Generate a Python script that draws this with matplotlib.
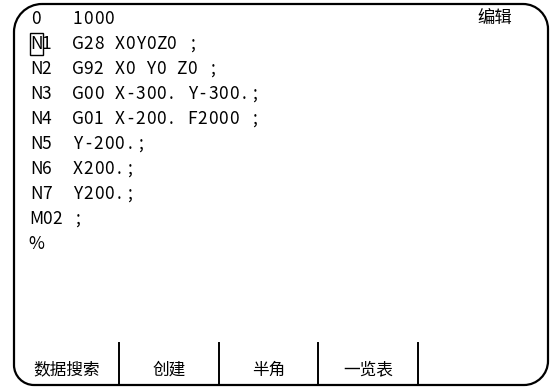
import matplotlib
matplotlib.use('Agg')
import matplotlib.pyplot as plt
from matplotlib.path import Path
from matplotlib.patches import PathPatch, Rectangle

# program listing shown on the CNC screen (half-width character grid)
LINES = [
    '0   1000',
    'N1  G28 X0Y0Z0 ;',
    'N2  G92 X0 Y0 Z0 ;',
    'N3  G00 X-300. Y-300.;',
    'N4  G01 X-200. F2000 ;',
    'N5  Y-200.;',
    'N6  X200.;',
    'N7  Y200.;',
    'M02 ;',
    '%',
]
MODE_LABEL = '编辑'
SOFTKEYS   = ['数据搜索', '创建', '半角', '一览表', '']

W, H = 551, 388
CJK = ['Noto Sans CJK SC', 'DejaVu Sans']
CELL = 10.4          # width of one half-width character cell (px)
X0 = 31              # left edge of the first cell
Y0 = 19              # centre of the first text row
ROW = 25             # row pitch


def frame_path(l, t, r, b, r_tl, r_tr, r_br, r_bl):
    """Rounded rectangle with a different radius on each corner (y down)."""
    k = 0.5523
    v = [(l + r_tl, t), (r - r_tr, t),
         (r - r_tr + k * r_tr, t), (r, t + r_tr - k * r_tr), (r, t + r_tr),
         (r, b - r_br),
         (r, b - r_br + k * r_br), (r - r_br + k * r_br, b), (r - r_br, b),
         (l + r_bl, b),
         (l + r_bl - k * r_bl, b), (l, b - r_bl + k * r_bl), (l, b - r_bl),
         (l, t + r_tl),
         (l, t + r_tl - k * r_tl), (l + r_tl - k * r_tl, t), (l + r_tl, t)]
    c = [Path.MOVETO, Path.LINETO,
         Path.CURVE4, Path.CURVE4, Path.CURVE4,
         Path.LINETO,
         Path.CURVE4, Path.CURVE4, Path.CURVE4,
         Path.LINETO,
         Path.CURVE4, Path.CURVE4, Path.CURVE4,
         Path.LINETO,
         Path.CURVE4, Path.CURVE4, Path.CURVE4]
    return Path(v, c)


fig = plt.figure(figsize=(W / 100, H / 100), dpi=100)
ax = fig.add_axes([0, 0, 1, 1])
ax.set_xlim(0, W)
ax.set_ylim(H, 0)
ax.axis('off')

ax.add_patch(PathPatch(frame_path(14, 4, 548, 385, 28, 25, 24, 20),
                       fill=False, lw=1.6, ec='black'))

# listing: every character centred in its own cell, like the CNC font
for i, line in enumerate(LINES):
    y = Y0 + ROW * i
    for j, ch in enumerate(line):
        if ch != ' ':
            ax.text(X0 + (j + 0.5) * CELL, y, ch, family=CJK, fontsize=12.5,
                    ha='center', va='center')

# cursor box on the "N" of the first block
ax.add_patch(Rectangle((X0 - 1.5, Y0 + ROW - 11), CELL + 3, 22,
                       fill=False, lw=1.0, ec='black'))

ax.text(512, 19, MODE_LABEL, family=CJK, fontsize=12.5, va='center', ha='right')

# soft keys
edges = [14, 119, 219, 318, 418, 548]
for i, label in enumerate(SOFTKEYS):
    if label:
        ax.text((edges[i] + edges[i + 1]) / 2, 370, label, family=CJK,
                fontsize=12, ha='center', va='center')
for x in edges[1:-1]:
    ax.plot([x, x], [343, 385], color='black', lw=1.4)

fig.savefig('out.png', dpi=100)
